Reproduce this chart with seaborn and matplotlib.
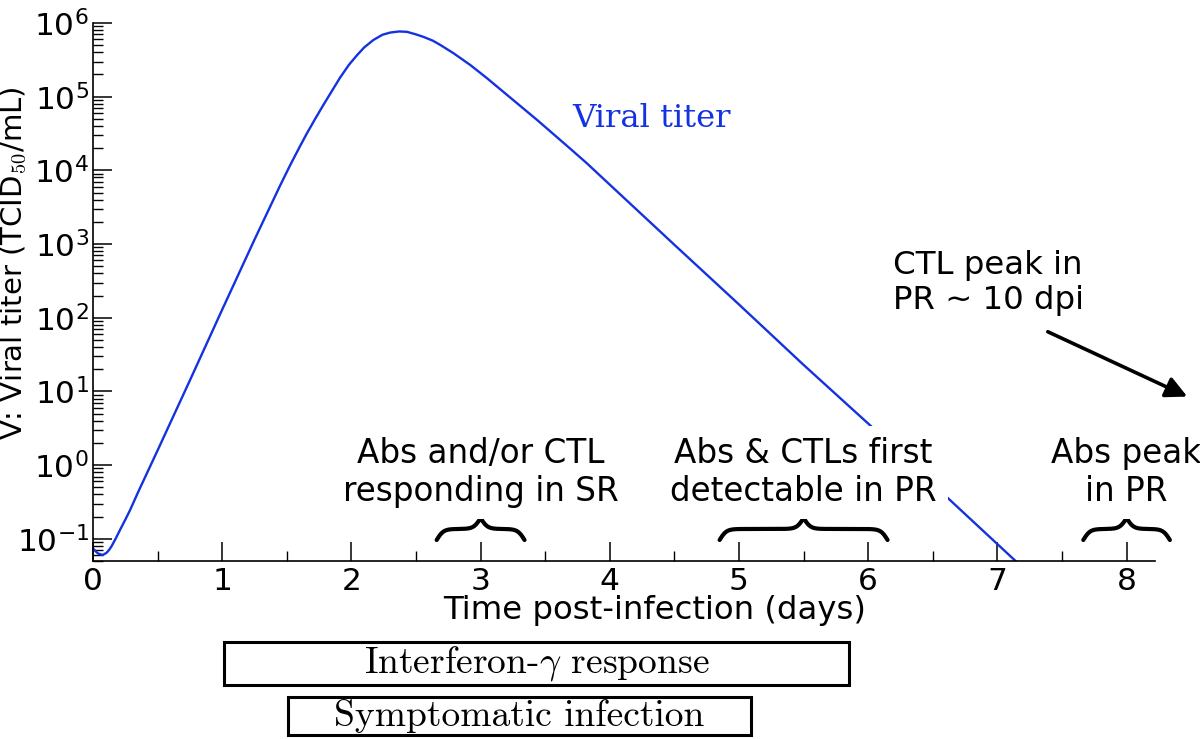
import numpy as np
import pandas as pd
import seaborn as sns
import matplotlib.pyplot as plt
import matplotlib.transforms as mtransforms
from matplotlib.patches import Rectangle
from matplotlib.ticker import LogLocator, MultipleLocator, FixedLocator

# Viral titer curve (days, log10 TCID50/mL)
time_days = [0.000, 0.020, 0.040, 0.075, 0.105, 0.125, 0.144, 0.175, 0.209, 0.250,
             0.287, 0.351, 0.50, 0.75, 1.00, 1.25, 1.45, 1.526, 1.60, 1.655,
             1.72, 1.784, 1.85, 1.913, 1.98, 2.042, 2.10, 2.171, 2.24, 2.30,
             2.37, 2.43, 2.50, 2.56, 2.63, 2.69, 2.79, 2.92, 3.05, 3.18,
             3.31, 3.44, 3.565, 3.69, 3.82, 3.93, 4.50, 5.00, 5.50, 6.04,
             6.60, 7.14, 7.25]
log_titer = [-1.13, -1.17, -1.20, -1.22, -1.19, -1.15, -1.10, -1.00, -0.88, -0.74,
             -0.61, -0.36, 0.20, 1.15, 2.11, 3.06, 3.80, 4.07, 4.32, 4.50,
             4.70, 4.89, 5.08, 5.26, 5.43, 5.56, 5.67, 5.77, 5.84, 5.87,
             5.885, 5.88, 5.845, 5.81, 5.76, 5.70, 5.59, 5.43, 5.25, 5.06,
             4.87, 4.68, 4.49, 4.30, 4.10, 3.92, 2.99, 2.18, 1.36, 0.50,
             -0.42, -1.30, -1.48]

# immune response brackets: (centre day, half width, label)
brace_centers = [3.0, 5.5, 8.0]
brace_halfwidths = [0.34, 0.65, 0.335]
brace_labels = ['Abs and/or CTL\nresponding in SR',
                'Abs & CTLs first\ndetectable in PR',
                'Abs peak\nin PR']

# timeline boxes under the axis (start day, end day, label)
box_starts = [1.015, 1.51]
box_ends = [5.85, 5.09]
box_labels = [r'Interferon-$\gamma$ response', 'Symptomatic infection']

line_color = '#1432e0'

sns.set_style('ticks')
plt.rcParams['font.family'] = ['DejaVu Sans']
plt.rcParams['mathtext.fontset'] = 'cm'
plt.rcParams['text.color'] = 'black'
plt.rcParams['axes.labelcolor'] = 'black'
plt.rcParams['xtick.color'] = 'black'
plt.rcParams['ytick.color'] = 'black'

fig = plt.figure(figsize=(12, 7.39), dpi=100)
ax = fig.add_axes([0.0775, 0.2409, 0.885, 0.728])

df = pd.DataFrame({'t': time_days, 'V': 10 ** np.array(log_titer)})
sns.lineplot(data=df, x='t', y='V', ax=ax, color=line_color, lw=1.7,
             sort=False, estimator=None, zorder=1)

ax.set_yscale('log')
ax.set_xlim(0, 8.22)
ax.set_ylim(0.05, 1e6)

ax.xaxis.set_major_locator(MultipleLocator(1))
ax.xaxis.set_minor_locator(MultipleLocator(0.5))
ax.yaxis.set_major_locator(FixedLocator([10.0 ** k for k in range(-1, 7)]))
ax.yaxis.set_minor_locator(LogLocator(base=10, subs=np.arange(2, 10), numticks=30))
ax.set_yticklabels([r'$\mathdefault{10^{%d}}$' % k for k in range(-1, 7)])

for s in ['top', 'right']:
    ax.spines[s].set_visible(False)
for s in ['left', 'bottom']:
    ax.spines[s].set_linewidth(1.2)
    ax.spines[s].set_color('black')

ax.tick_params(which='major', direction='in', length=14, width=1.1, labelsize=22.5,
               colors='black', pad=4)
ax.tick_params(which='minor', direction='in', length=7, width=1.0, colors='black')
ax.tick_params(axis='y', which='major', pad=3)

ax.set_xlabel('Time post-infection (days)', fontsize=23.3)
ax.xaxis.set_label_coords(0.529, -0.064)
ax.set_ylabel(r'V: Viral titer (TCID$_{50}$/mL)', fontsize=21)
ax.yaxis.label.set_va('center')
ax.yaxis.set_label_coords(-0.0744, 0.554)

# curve label
ax.text(3.71, 10 ** 4.59, 'Viral titer', color=line_color, fontsize=23.2,
        family='DejaVu Serif', ha='left', va='baseline')

# braces with their labels
trans = mtransforms.blended_transform_factory(ax.transData, ax.transAxes)
for xc, hw, lab in zip(brace_centers, brace_halfwidths, brace_labels):
    beta = 38.0
    xs = np.linspace(xc - hw, xc + hw, 401)
    half = xs[:201]
    yh = 1 / (1 + np.exp(-beta * (half - half[0]))) + 1 / (1 + np.exp(-beta * (half - half[-1])))
    yb = np.concatenate([yh, yh[-2::-1]])
    yb = 0.039 + (yb - 0.5) * 0.041
    ax.plot(xs, yb, color='black', lw=3.0, transform=trans, clip_on=False,
            solid_capstyle='round')
    ax.text(xc, 0.8, lab, fontsize=23.5, ha='center', va='center', zorder=3,
            linespacing=1.2,
            bbox=dict(facecolor='white', edgecolor='none', pad=8))

# CTL peak note with arrow pointing out of range
ax.text(6.19, 10 ** 2.47, 'CTL peak in\nPR ~ 10 dpi', fontsize=23.3,
        ha='left', va='center', linespacing=1.2)
ax.annotate('', xy=(8.47, 10 ** 0.93), xytext=(7.39, 10 ** 1.81),
            annotation_clip=False,
            arrowprops=dict(arrowstyle='-|>', color='black', lw=2.6,
                            mutation_scale=32, shrinkA=0, shrinkB=0))

# timeline boxes
box_y = [(-0.2305, -0.1506), (-0.3234, -0.2528)]
for (x0, x1, lab), (y0, y1) in zip(zip(box_starts, box_ends, box_labels), box_y):
    ax.add_patch(Rectangle((x0, y0), x1 - x0, y1 - y0, transform=trans,
                           facecolor='white', edgecolor='black', lw=2.2,
                           clip_on=False))
    ax.text((x0 + x1) / 2, (y0 + y1) / 2, lab, transform=trans, fontsize=27,
            family='cmr10', ha='center', va='center')

fig.savefig('out.png', dpi=100)
